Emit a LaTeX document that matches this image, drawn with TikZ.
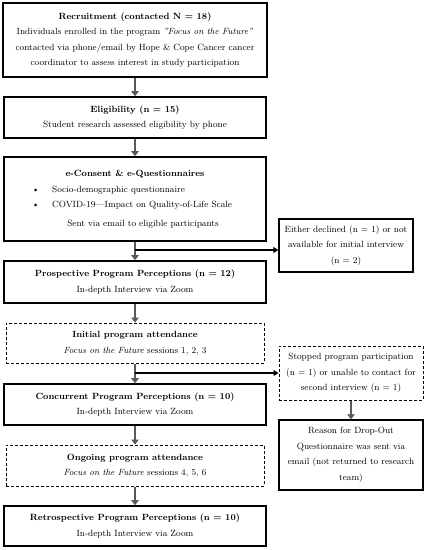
\documentclass[tikz,border=0pt]{standalone}
\usetikzlibrary{arrows.meta,positioning}

\begin{document}
\begin{tikzpicture}[
x=1pt, y=-1pt,
font=\fontsize{9}{15.5}\selectfont,
stagebox/.style={draw, line width=1.6pt, align=center, minimum width=262pt, inner sep=3pt},
attendbox/.style={draw, dash pattern=on 3pt off 2pt, line width=1pt, align=center, minimum width=258pt, inner sep=3pt},
sidebox/.style={draw, line width=1.4pt, align=center, inner sep=3pt},
flow/.style={-{Triangle[length=5pt, width=7.5pt]}, line width=2.6pt, draw=black!65},
branch/.style={-{Triangle[length=5pt, width=6pt]}, line width=1.6pt}
]
\useasboundingbox (0,0) rectangle (427,550);

\node[stagebox, minimum width=264pt, minimum height=74pt] (rec) at (135,40)
  {\textbf{Recruitment (contacted N = 18)}\\
   Individuals enrolled in the program \textit{''Focus on the Future''}\\
   contacted via phone/email by Hope \& Cope Cancer cancer\\
   coordinator to assess interest in study participation};
\node[stagebox, minimum height=41pt] (elig) at (135,117.5)
  {\textbf{Eligibility (n = 15)}\\ Student research assessed eligibility by phone};
\node[stagebox, minimum height=84pt] (cons) at (135,199)
  {\textbf{e-Consent \& e-Questionnaires}\\
   \makebox[250pt][l]{\hspace{22pt}\textbullet\hspace{13pt}Socio-demographic questionnaire}\\
   \makebox[250pt][l]{\hspace{22pt}\textbullet\hspace{13pt}COVID-19---Impact on Quality-of-Life Scale}\\[3pt]
   \hspace{16pt}Sent via email to eligible participants};
\node[stagebox, minimum height=42pt] (prosp) at (135,282)
  {\textbf{Prospective Program Perceptions (n = 12)}\\ In-depth Interview via Zoom};
\node[attendbox, minimum height=40pt] (init) at (135,343)
  {\textbf{Initial program attendance}\\ \textit{Focus on the Future} sessions 1, 2, 3};
\node[stagebox, minimum height=41pt] (conc) at (135,404.5)
  {\textbf{Concurrent Program Perceptions (n = 10)}\\ In-depth Interview via Zoom};
\node[attendbox, minimum height=41pt] (ong) at (135,465.5)
  {\textbf{Ongoing program attendance}\\ \textit{Focus on the Future} sessions 4, 5, 6};
\node[stagebox, minimum height=40pt] (retro) at (135,526)
  {\textbf{Retrospective Program Perceptions (n = 10)}\\ In-depth Interview via Zoom};

% side boxes
\node[sidebox, minimum width=134pt, minimum height=53pt] (decl) at (346,245.5)
  {Either declined (n = 1) or not\\ available for initial interview\\ (n = 2)};
\node[sidebox, dash pattern=on 3pt off 2pt, line width=1pt, minimum width=144pt, minimum height=54pt] (stop) at (351,373)
  {Stopped program participation\\ (n = 1) or unable to contact for\\ second interview (n = 1)};
\node[sidebox, minimum width=144pt, minimum height=70pt] (drop) at (351,455)
  {Reason for Drop-Out\\ Questionnaire was sent via\\ email (not returned to research\\ team)};

\draw[flow] (rec) -- (elig);
\draw[flow] (elig) -- (cons);
\draw[flow] (cons) -- (prosp);
\draw[flow] (prosp) -- (init);
\draw[flow] (init) -- (conc);
\draw[flow] (conc) -- (ong);
\draw[flow] (ong) -- (retro);
\draw[flow] (stop) -- (drop);

\coordinate (b1) at (135,250);
\coordinate (b2) at (135,373);
\draw[branch] (b1) -- (b1 -| decl.west);
\draw[branch] (b2) -- (stop.west);
\end{tikzpicture}
\end{document}
